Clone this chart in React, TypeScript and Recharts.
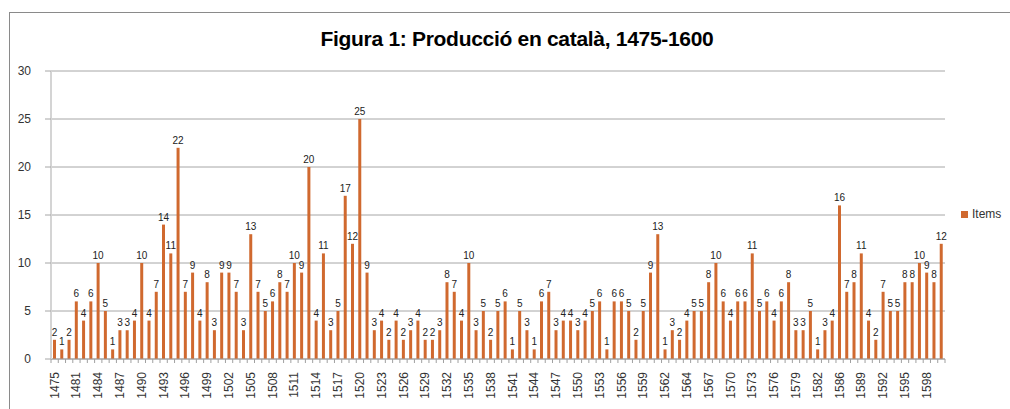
import React from 'react'
import { BarChart, Bar, XAxis, YAxis, CartesianGrid, LabelList } from 'recharts'

// years with output (not every year appears, 1563 has two entries)
const years = [
  1475, 1478, 1480, 1481, 1482, 1483, 1484, 1485, 1486, 1487, 1488, 1489, 1490, 1491, 1492, 1493, 1494, 1495,
  1496, 1497, 1498, 1499, 1500, 1501, 1502, 1503, 1504, 1505, 1506, 1507, 1508, 1509, 1510, 1511, 1512, 1513,
  1514, 1515, 1516, 1517, 1518, 1519, 1520, 1521, 1522, 1523, 1524, 1525, 1526, 1527, 1528, 1529, 1530, 1531,
  1532, 1533, 1534, 1535, 1536, 1537, 1538, 1539, 1540, 1541, 1542, 1543, 1544, 1545, 1546, 1547, 1548, 1549,
  1550, 1551, 1552, 1553, 1554, 1555, 1556, 1557, 1558, 1559, 1560, 1561, 1562, 1563, 1563, 1564, 1565, 1566,
  1567, 1568, 1569, 1570, 1571, 1572, 1573, 1574, 1575, 1576, 1577, 1578, 1579, 1580, 1581, 1582, 1583, 1585,
  1586, 1587, 1588, 1589, 1590, 1591, 1592, 1593, 1594, 1595, 1596, 1597, 1598, 1599, 1600,
]

const items = [
  2, 1, 2, 6, 4, 6, 10, 5, 1, 3, 3, 4, 10, 4, 7, 14, 11, 22, 7, 9,
  4, 8, 3, 9, 9, 7, 3, 13, 7, 5, 6, 8, 7, 10, 9, 20, 4, 11, 3, 5,
  17, 12, 25, 9, 3, 4, 2, 4, 2, 3, 4, 2, 2, 3, 8, 7, 4, 10, 3, 5,
  2, 5, 6, 1, 5, 3, 1, 6, 7, 3, 4, 4, 3, 4, 5, 6, 1, 6, 6, 5,
  2, 5, 9, 13, 1, 3, 2, 4, 5, 5, 8, 10, 6, 4, 6, 6, 11, 5, 6, 4,
  6, 8, 3, 3, 5, 1, 3, 4, 16, 7, 8, 11, 4, 2, 7, 5, 5, 8, 8, 10,
  9, 8, 12,
]

const yTicks = [0, 5, 10, 15, 20, 25, 30]

const data = years.map((y, i) => ({ year: String(y), items: items[i] }))

const W = 1010
const H = 409
const LEFT = 51
const RIGHT = 65
const STEP = (W - LEFT - RIGHT) / data.length
const BAR = '#D0692F'
const FONT = '"Liberation Sans", Arial, sans-serif'

function YearTick(props: any) {
  const { x, y, index, payload } = props
  const last = index === data.length - 1
  return (
    <g>
      <line x1={x - STEP / 2} x2={x - STEP / 2} y1={y} y2={y + 4} stroke="#a0a0a0" />
      {last && <line x1={x + STEP / 2} x2={x + STEP / 2} y1={y} y2={y + 4} stroke="#a0a0a0" />}
      {index % 3 === 0 && (
        <text
          x={x}
          y={y + 13}
          transform={`rotate(-90 ${x} ${y + 13})`}
          textAnchor="end"
          dominantBaseline="central"
          fontSize={12}
          fontFamily={FONT}
          fill="#333"
        >
          {payload.value}
        </text>
      )}
    </g>
  )
}

export default function App() {
  return (
    <div style={{ position: 'absolute', left: 0, top: 0, width: W, height: H, background: '#fff', overflow: 'hidden' }}>
      <div
        style={{
          position: 'absolute',
          left: 9,
          top: 12,
          width: W,
          height: H,
          borderLeft: '1px solid #8a8a8a',
          borderTop: '1px solid #8a8a8a',
        }}
      />
      <div
        style={{
          position: 'absolute',
          left: 0,
          width: 1034,
          top: 27,
          textAlign: 'center',
          fontFamily: FONT,
          fontWeight: 'bold',
          fontSize: 21,
          letterSpacing: -0.3,
          color: '#000',
        }}
      >
        Figura 1: Producció en català, 1475-1600
      </div>
      <div style={{ position: 'absolute', left: 0, top: 0 }}>
        <BarChart width={W} height={H} data={data} margin={{ top: 71, right: RIGHT, bottom: 0, left: 0 }}>
          <CartesianGrid vertical={false} stroke="#a6a6a6" />
          <XAxis
            dataKey="year"
            interval={0}
            height={50}
            tickLine={false}
            tickSize={0}
            tickMargin={0}
            axisLine={{ stroke: '#a0a0a0' }}
            tick={<YearTick />}
          />
          <YAxis
            width={LEFT}
            domain={[0, 30]}
            ticks={yTicks}
            tickSize={6}
            tickMargin={14}
            tickLine={{ stroke: '#a6a6a6' }}
            axisLine={{ stroke: '#d4d4d4', strokeWidth: 2 }}
            tick={{ fontSize: 12, fontFamily: FONT, fill: '#333' }}
          />
          <Bar dataKey="items" fill={BAR} barSize={3} isAnimationActive={false}>
            <LabelList dataKey="items" position="top" offset={4} fontSize={10} fontFamily={FONT} fill="#222" />
          </Bar>
        </BarChart>
      </div>
      <div
        style={{
          position: 'absolute',
          left: 961,
          top: 207,
          display: 'flex',
          alignItems: 'center',
          fontFamily: FONT,
          fontSize: 12,
          color: '#333',
        }}
      >
        <span style={{ display: 'inline-block', width: 7, height: 7, background: BAR, marginRight: 4 }} />
        Items
      </div>
    </div>
  )
}
